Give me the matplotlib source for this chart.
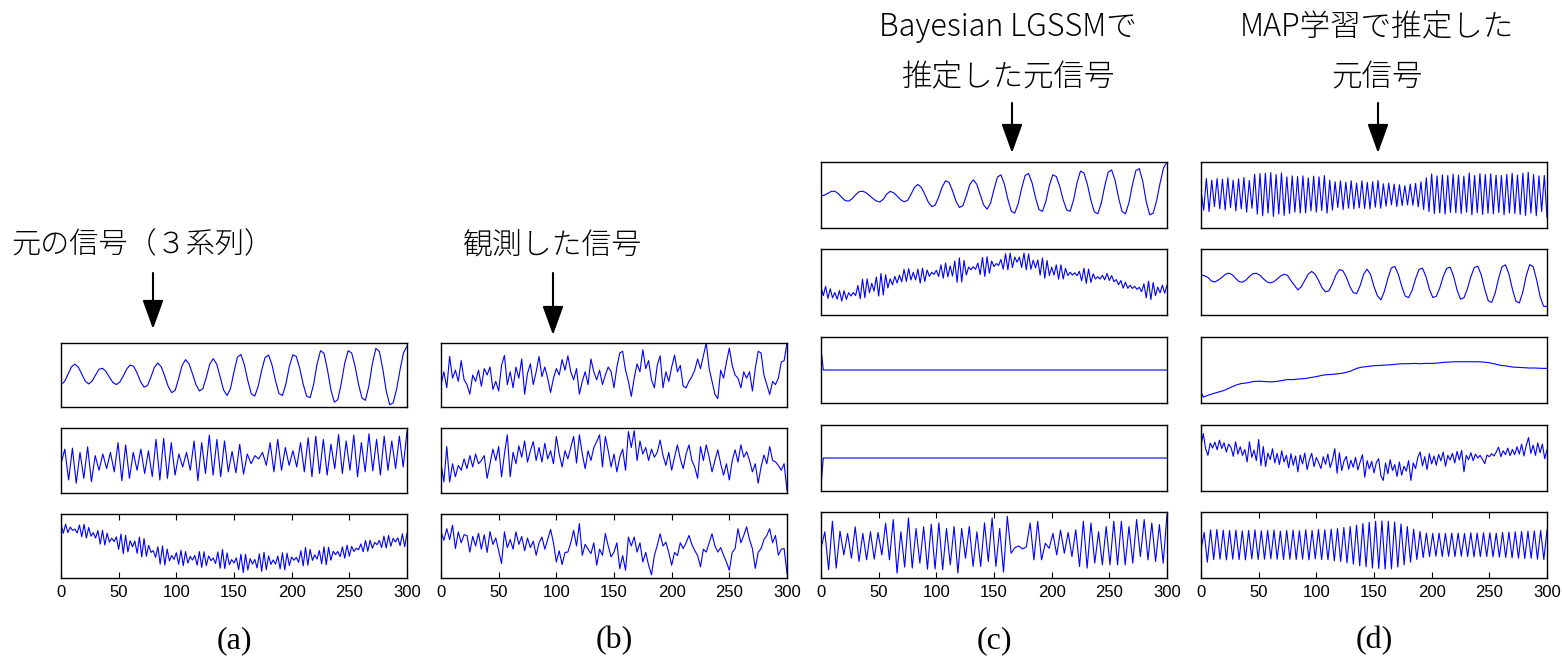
# -*- coding: utf-8 -*-
"""
Original signals, observed signals and the two estimates
(Bayesian LGSSM / MAP learning), drawn as stacked MATLAB-style strips.
"""
import numpy as np
import matplotlib
matplotlib.use("Agg")
import matplotlib.pyplot as plt
from matplotlib.patches import FancyArrowPatch

# ---------------------------------------------------------------- data
# (a) original signals, 3 series
sig_a1 = [-3.0, -2.1, 0.2, 2.5, 3.4, 2.5, 0.3, -1.9, -2.8, -1.9,
          0.0, 1.8, 2.1, 1.1, -0.7, -2.3, -3.0, -2.2, -0.3, 1.9,
          3.1, 2.7, 0.6, -2.1, -3.8, -3.3, -0.6, 2.4, 3.75, 2.5,
          -0.4, -3.6, -5.5, -4.8, -1.1, 3.0, 4.8, 3.5, 0.4, -3.0,
          -5.0, -4.3, -0.7, 3.4, 5.1, 3.4, -0.6, -4.7, -6.4, -4.2,
          1.0, 5.6, 6.4, 3.2, -1.8, -5.9, -6.6, -3.5, 1.5, 5.5,
          6.2, 3.1, -1.8, -5.8, -6.4, -2.8, 2.7, 6.3, 5.8, 2.1,
          -2.9, -6.6, -7.1, -3.0, 3.4, 7.6, 6.8, 1.7, -4.6, -8.5,
          -7.7, -2.6, 3.7, 7.6, 6.9, 2.7, -3.0, -7.2, -7.9, -3.3,
          3.6, 8.3, 7.4, 1.9, -5.0, -9.3, -8.7, -4.4, 1.7, 7.0,
          9.0]
sig_a2 = [-1, 3.5, -6, 3.8, -7, 2.5, -5.5, 4.2, -6.5, 1.5,
          -3, 2, -2.5, 2.5, -3.5, 5.5, -6.2, 4.8, -5.5, 2.5,
          -3, 3.5, -4, 3, -5, 6.5, -6, 6.8, -5.5, 5.5,
          -4.5, 2, -2, 2.5, -3, 6, -6.2, 5.5, -4, 7.8,
          -4.5, 6.5, -5, 6, -3.5, 2.8, -3.8, 5, -4.2, 2,
          -1, 1.5, 0.5, 2.5, -1.5, 5.5, -3.5, 6.5, -3, 4,
          -1.5, 3, -2, 5.5, -3.5, 7, -5, 7.5, -4, 6.5,
          -4.5, 5, -2.5, 8, -4, 6, -3, 7.8, -5, 5.5,
          -3.5, 8.2, -3.2, 6.5, -4.5, 7.5, -3, 6, -2.5, 7.5,
          -2, 9]
sig_a3 = [7.0, 4.0, 6.8, 4.2, 5.9, 4.9, 5.3, 4.05, 6.55, 2.9,
          6.8, 2.5, 5.8, 3.05, 4.15, 2.5, 4.8, 0.6, 4.9, 0.3,
          4.0, 1.2, 2.45, 1.35, 2.85, -1.05, 3.75, -2.4, 3.35, -1.85,
          1.65, -0.27, 1.55, -2.3, 2.8, -3.4, 2.35, -3.2, 0.2, -2.0,
          -1.45, -3.55, -0.25, -5.65, 0.0, -5.95, -0.95, -4.65, -2.95, -4.2,
          -2.1, -5.7, -1.35, -6.15, -1.75, -5.35, -3.25, -4.4, -2.95, -6.0,
          -1.75, -6.7, -1.8, -6.1, -3.1, -4.6, -3.75, -5.5, -1.85, -6.95,
          -1.1, -7.05, -2.15, -5.85, -4.25, -5.3, -3.7, -7.4, -2.55, -8.3,
          -2.6, -7.5, -3.95, -5.65, -4.2, -6.85, -2.45, -7.9, -1.95, -7.4,
          -3.05, -5.75, -4.35, -5.65, -3.15, -7.15, -2.1, -7.45, -2.25, -6.1,
          -3.45, -4.45, -3.55, -5.1, -1.45, -6.2, -0.4, -6.0, -1.05, -4.5,
          -2.75, -4.1, -1.4, -5.55, -0.25, -5.85, -0.4, -4.45, -1.65, -2.7,
          -1.7, -3.35, -0.3, -3.8, 0.25, -3.2, -0.1, -1.7, -0.7, -1.2,
          0.65, -1.8, 1.7, -1.65, 1.8, -0.7, 1.1, 0.4, 1.75, -0.5,
          3.1, -0.65, 3.3, -0.05, 2.4, 1.25, 2.55, 0.1, 3.8, -0.2,
          4.0]

# (b) observed signals, 3 series
sig_b1 = [-3, 1, -4, 5.8, -1, 1.5, -2, 4.5, -1.5, -3,
          -6, 0, -2, 1.5, -3.5, 2, 0, 2.5, -4.5, -2,
          -5, 3, 6.1, -3, 1, -4, 2.5, -1, 5, -6,
          0.5, 3.5, -3, 1, 5.8, -0.5, 2.5, -1, -5.5, -1,
          2, 0, 4.8, 1.5, 6, 1, -1.5, 2, -6, -2,
          1, -3, 5, 1, -1.5, 1.5, -3, 0, 2.5, 1,
          -4, 2.5, 6.9, 7.4, 1.5, -2, -6.7, -1, 3.5, 1,
          7.9, 2, 4.5, -1.5, -4, 3, 6, -4, 1, -2,
          2.5, 6.2, 1, 3, -3.5, -4, -2, -0.5, 1.5, 5,
          2, 6, 10, 2, -2, -6, -7.4, 1.5, -1, 4,
          8.4, 3, 0, -1, -4, 1, -1, 1, -5, 2,
          7.4, 6.9, 0, -3, -6.1, -2, -3, -1, 4, 4.5,
          10]
sig_b2 = [-1, -6.6, 4.3, -6.6, -1, -5, -1.5, -3, 0.5, -2.5,
          1.5, -2, 2, -1, 0, 1.5, -5.5, -1, 3.5, 0,
          4.3, -5, 2, 7.9, -5, 2.5, -1, 4.5, 1, 6,
          -0.5, 3, 5.8, 0, 4, -0.5, 5.3, 0.5, 3, -1,
          7.4, 2, -2, 3, 0.5, 4, 7.4, -0.8, 7.9, 2,
          -2.5, 3, 0, 4, 5.8, 7.9, -2, 7.4, 3, -2,
          2, -3.5, 1, 3.5, -3, 8.9, 4, 9.2, 0, 6,
          2, 4, 0, 3.5, 1, 2.5, 6.3, 1.5, -1.5, 2.5,
          -3, 1, 4.8, 0.5, -2.5, 2, 4.8, 0, -2, -5.5,
          4.3, 0, 4.8, 1, -3.5, 0, 3.3, -1, -4.5, -1,
          -6, 0, 3.3, -0.5, 4.8, 1, 2.7, 0, -3.5, -1,
          -7, -2, 1.7, -1, 4.3, 0, -0.4, -1.5, -3, -1,
          -9.2]
sig_b3 = [4.4, 1.8, 5.4, 2, 6.5, -0.8, 4.4, 1, 3.5, 3.3,
          -1.9, 3, 0, 4, -1, 3.5, -2, 4.5, 0.5, 2.5,
          -1.5, -5.5, 4.4, -0.5, 2, -1, 4.4, 0.5, 3, -1.5,
          2.5, -0.5, 1.5, -2.9, 1, 2.8, -1, 2, 5.2, 1,
          -5, -1.5, -5.8, -2, -1.9, 1, 4.9, 0, 7, -2.9,
          0.5, -1, -2.4, 1, -6, -1, -2.9, 3.9, 0, -3.4,
          -1.9, 1, -7.1, -3, -7.6, 2.8, 0, 2.8, -1.9, 1,
          -5, -2, -6, -9, -3, 0.2, 3.8, 0, 1.2, -2,
          -6, -2, -3, 1, -0.8, 1, 3.3, 0.5, -1.4, -3,
          -6.5, -1, -1.9, 1, 3.8, 0, -1.9, -0.5, -2.9, -5,
          -7.6, -2, -0.8, 5.4, 1, 3.3, 6, 2, -0.8, -7,
          -2, -0.8, 2, 3.3, 5.4, 1, 3.3, -2.9, -1, -0.8,
          -8.6]

# (c) Bayesian LGSSM estimate, 5 series
sig_c1 = [-0.3, -0.04, 0.55, 1.08, 1.15, 0.43, -0.75, -1.7, -1.85, -1.13,
          0.05, 0.99, 1.17, 0.72, -0.14, -1.06, -1.82, -2.1, -1.3, 0.3,
          1.1, 0.69, -0.31, -1.41, -2.05, -1.67, 0.18, 2.3, 3.2, 2.32,
          0.21, -2.14, -3.5, -3.08, -0.64, 2.4, 4.28, 3.86, 1.33, -1.83,
          -3.78, -3.22, -0.25, 3.15, 4.6, 3.3, 0.15, -3.0, -4.3, -2.48,
          1.74, 5.45, 6.1, 3.3, -1.26, -4.9, -5.5, -2.6, 2.1, 5.9,
          6.5, 3.7, -0.8, -4.4, -4.97, -1.87, 2.9, 6.1, 5.6, 2.6,
          -1.5, -4.5, -4.95, -1.5, 3.75, 7.25, 6.7, 3.2, -1.6, -5.1,
          -5.7, -2.5, 2.7, 6.9, 7.6, 4.4, -0.8, -5.0, -5.7, -2.35,
          3.05, 7.4, 8.0, 4.1, -2.0, -6.0, -5.5, -1.7, 3.6, 8.2,
          10.0]
sig_c2 = [-1.4, -4.15, -1.33, -4.97, -2.05, -4.8, -3.18, -5.2, -2.58, -5.8,
          -2.63, -5.25, -3.23, -4.25, -3.2, -4.1, -1.05, -5.05, 0.84, -4.74,
          0.95, -3.25, -0.4, -2.75, 1.55, -4.25, 2.6, -3.95, 2.2, -1.8,
          0.95, -0.85, 1.7, -0.3, 2.1, 0.05, 3.8, 0.2, 4.05, 0.6,
          2.95, 0.62, 3.9, -0.35, 4.2, 0.15, 3.63, 1.71, 2.95, 2.3,
          3.54, 1.67, 5.2, 1.15, 5.75, 1.55, 4.88, 1.79, 6.35, -0.1,
          7.3, 0.0, 6.55, 2.14, 4.52, 3.7, 4.6, 3.85, 5.75, 2.25,
          7.45, 1.7, 7.65, 2.65, 6.35, 4.65, 5.6, 5.0, 6.82, 3.9,
          8.57, 3.7, 8.77, 4.4, 7.57, 6.0, 7.57, 4.4, 8.77, 3.7,
          8.52, 3.85, 6.62, 4.3, 6.7, 2.05, 7.29, 1.16, 6.5, 1.95,
          4.5, 2.07, 5.2, 0.85, 5.2, 0.9, 4.13, 1.96, 2.95, 2.1,
          2.8, 1.9, 3.24, 0.37, 4.19, -0.4, 3.94, -0.13, 2.49, 0.9,
          1.6, 0.9, 2.0, 0.65, 2.6, 0.45, 1.95, 0.1, 0.75, -0.85,
          0.45, -1.85, -0.05, -1.9, -0.95, -1.95, -1.3, -2.25, -1.6, -2.94,
          -0.57, -4.78, 0.24, -5.34, -0.17, -4.13, -1.56, -3.28, -0.96, -3.4,
          -0.96]
c3_t = [0, 2, 300]
sig_c3 = [6.5, 0.0, 0.0]
c4_t = [0, 2, 300]
sig_c4 = [-8.3, 0.0, 0.0]
sig_c5 = [-1, 4, -7.5, 7.2, -7, 4.2, -3, 3.5, -4, 5.5,
          -5, 3.5, -4.5, 4, -4.3, 3.8, -3, 6.6, -4.5, 7.7,
          -8.5, 4, -6.7, 8.2, -7, 5, -5.5, 5.5, -7.3, 6.3,
          -7.3, 6.7, -7.5, 5, -6, 5.6, -8.5, 5, -4, 5.6,
          -6.5, 4, -6.5, 6.7, -5, 8.2, -6.5, 5, -8.2, 8.7,
          -2.5, -0.8, -0.3, -1.2, -0.6, 6.7, -4.5, 7.2, -4.5, 0.5,
          -1, 3.5, -3, 4.5, -2.5, 3.8, -3.5, 4.6, -6.5, 7.2,
          -7, 6.7, -5.5, 4, -6, 5.6, -6, 7.2, -6, 7.2,
          -6, 5.6, -5.5, 7.7, -3.5, 7.7, -4.5, 6.7, -5, 6.2,
          -5.5, 9.2]

# (d) MAP learning estimate, 5 series
sig_d1 = [1.4, -4.6, 5, -5, 4.5, -3.5, 5, -4.2, 4.8, -4.5,
          5.2, -3.8, 4.5, -4.8, 4.9, -4.2, 5.3, -5.2, 4.4, -4,
          6.3, -5.8, 6.5, -6.3, 6.6, -5.5, 6.8, -6.5, 6.2, -5.8,
          6.7, -6.2, 5.5, -5.6, 5.8, -5.2, 5.6, -5.5, 5.8, -5.4,
          5.2, -4.8, 5.7, -5.2, 5.5, -4.7, 5.9, -5.5, 4.5, -4.6,
          4.0, -3.8, 4.3, -4.4, 3.9, -4.0, 4.3, -4.2, 3.6, -3.9,
          4.3, -4.1, 3.8, -4.2, 4.0, -3.7, 4.4, -4.0, 3.4, -3.4,
          3.6, -3.0, 3.3, -3.5, 3.1, -3.2, 2.8, -3.0, 3.3, -3.1,
          3.5, -3.6, 4.0, -4.4, 5.2, -5.0, 6.4, -5.6, 5.8, -5.4,
          6.1, -5.8, 5.9, -5.3, 6.3, -5.4, 6.0, -5.6, 5.7, -5.2,
          6.7, -6.0, 5.9, -5.4, 6.5, -5.9, 6.2, -5.5, 6.4, -5.7,
          6.0, -5.3, 5.9, -6.0, 6.3, -5.4, 6.6, -5.6, 6.0, -5.9,
          6.6, -6.2, 6.9, -5.5, 6.2, -6.3, 5.8, -5.0, 5.9, -6.7]
sig_d2 = [2.2, 1.88, 1.4, 0.32, 0.0, 0.6, 1.35, 2.3, 2.7, 2.22,
          1.1, 0.12, -0.05, 0.6, 1.66, 2.5, 2.65, 2.06, 1.02, 0.09,
          -0.3, 0.05, 0.89, 1.82, 2.36, 2.03, 0.42, -1.0, -2.4, -1.41,
          0.5, 2.41, 3.2, 2.38, 0.43, -1.75, -3.0, -2.63, -0.51, 2.15,
          3.78, 3.44, 1.47, -1.27, -3.24, -3.51, -1.08, 2.34, 3.9, 2.3,
          -1.4, -4.2, -5.4, -2.83, 1.08, 4.23, 4.73, 2.45, -1.27, -4.24,
          -4.74, -2.58, 0.95, 3.78, 4.21, 1.7, -2.16, -4.71, -4.32, -1.83,
          1.63, 4.12, 4.5, 1.77, -2.42, -5.2, -4.78, -2.07, 1.67, 4.38,
          4.8, 2.15, -2.18, -5.64, -6.2, -3.45, 1.03, 4.63, 5.2, 2.4,
          -2.15, -5.8, -6.35, -3.09, 1.93, 5.26, 4.65, 0.65, -4.33, -7.38,
          -7.4]
d3_t = [0, 2] + list(range(5, 301, 5))
sig_d3 = [-6.7, -8.2, -7.8, -7.2, -6.7, -6.2, -5.4, -4.6, -4.1, -3.9,
          -3.5, -3.4, -3.5, -3.6, -3.5, -3.2, -2.9, -2.9, -2.7, -2.6,
          -2.3, -2.0, -1.6, -1.4, -1.3, -1.1, -0.8, -0.3, 0.5, 0.9,
          1.1, 1.3, 1.4, 1.5, 1.6, 1.8, 1.9, 1.9, 2.0, 1.9,
          2.0, 2.0, 2.1, 2.3, 2.4, 2.5, 2.5, 2.5, 2.5, 2.5,
          2.4, 2.2, 1.8, 1.4, 1.2, 0.9, 0.8, 0.7, 0.6, 0.6,
          0.5, 0.5]
sig_d4 = [3.8, 7.4, 2.8, 0.8, 4.5, 3.0, 4.8, 2.5, 5.4, 2.9,
          4.6, 1.8, 4.2, 3.2, 0.5, 4.9, 1.2, 3.4, 0.8, 2.6,
          -1.2, 4.9, 0.2, 2.4, -0.8, 5.6, -2.3, 3.5, -2.6, 1.5,
          -0.5, 2.8, -1.5, 1.4, -2.0, 2.2, -1.2, 0.8, -3.0, 1.3,
          -2.2, 0.6, -4.2, 0.9, -1.8, 1.5, -3.5, -0.5, 1.4, -2.6,
          0.2, -1.4, -3.2, 0.4, -1.9, 1.2, -2.9, -0.6, 2.8, -4.6,
          1.6, -3.8, -0.9, 0.5, -3.4, -0.7, -2.8, 0.2, -3.6, -1.2,
          1.0, -5.8, -0.8, -3.3, -1.0, -4.5, -1.4, -0.2, -5.4, -6.8,
          -1.5, -4.8, -0.5, -3.8, -2.0, -5.6, -1.2, -5.2, -2.5, -4.0,
          -0.8, -6.8, -1.5, -3.2, 0.2, 1.8, -2.4, 0.4, -3.5, 1.3,
          -1.8, 0.6, -2.2, 1.1, -0.9, 1.8, -2.5, 0.8, -0.6, 1.4,
          -1.5, 2.0, -0.6, 2.3, -4.2, 0.8, -0.5, 1.6, -0.8, 1.2,
          0.0, 0.8, -0.4, -1.7, 0.9, 0.4, 1.3, 0.6, 1.8, 3.3,
          0.4, 2.2, 1.0, 3.0, 0.7, 2.6, 1.0, 3.4, 1.2, 4.2,
          0.6, 3.8, 6.2, 1.4, 3.9, 0.8, 4.6, 1.6, 4.2, -0.2,
          2.5]
sig_d5 = [-1.4, 3.8, -5.2, 4.6, -4.4, 4.7, -4.3, 4.5, -4.5, 4.4,
          -4.3, 4.5, -4.4, 4.3, -4.5, 4.4, -4.2, 4.6, -4.4, 4.3,
          -4.3, 4.4, -4.2, 4.5, -4.3, 4.2, -4.4, 4.4, -4.3, 4.5,
          -4.4, 4.3, -4.3, 4.6, -4.5, 4.4, -4.2, 4.7, -4.4, 4.6,
          -4.5, 4.8, -4.8, 5.0, -5.0, 5.3, -5.4, 5.6, -5.8, 6.0,
          -6.3, 6.5, -6.6, 6.9, -7.0, 7.2, -7.1, 7.3, -7.3, 7.2,
          -7.2, 7.0, -6.7, 6.4, -6.0, 5.6, -5.2, 4.8, -4.4, 4.1,
          -3.8, 3.6, -3.5, 3.5, -3.4, 3.6, -3.5, 3.5, -3.4, 3.6,
          -3.5, 3.6, -3.4, 3.5, -3.5, 3.7, -3.6, 3.6, -3.5, 3.7,
          -3.5, 3.7, -3.6, 3.6, -3.7, 3.8, -3.8, 3.9, -3.9, 4.0,
          -4.0, 4.1, -4.1, 4.2, -4.0, 4.3, -4.3, 4.4, -4.4, 4.6]

panel_labels = ["(a)", "(b)", "(c)", "(d)"]
x_ticks = [0, 50, 100, 150, 200, 250, 300]
panels = [
    [(None, sig_a1), (None, sig_a2), (None, sig_a3)],
    [(None, sig_b1), (None, sig_b2), (None, sig_b3)],
    [(None, sig_c1), (None, sig_c2), (c3_t, sig_c3), (c4_t, sig_c4), (None, sig_c5)],
    [(None, sig_d1), (None, sig_d2), (d3_t, sig_d3), (None, sig_d4), (None, sig_d5)],
]

# ---------------------------------------------------------------- layout (pixels)
W, H = 1562, 657
col_left = [61, 441, 821, 1201]
col_w = 346
rows3 = [(343, 407), (428, 493), (514, 578)]
rows5 = [(162, 228), (249, 315), (337, 403), (425, 491), (512, 578)]

plt.rcParams["font.family"] = ["Noto Sans CJK JP", "DejaVu Sans"]

fig = plt.figure(figsize=(W / 100, H / 100), dpi=100)


def px_axes(left, top, bottom):
    return fig.add_axes([left / W, 1 - bottom / H, col_w / W, (bottom - top) / H])


for ci, series in enumerate(panels):
    rows = rows3 if len(series) == 3 else rows5
    for ri, ((t, v), (top, bot)) in enumerate(zip(series, rows)):
        ax = px_axes(col_left[ci], top, bot)
        x = np.linspace(0, 300, len(v)) if t is None else t
        ax.plot(x, v, color="#0000ff", lw=0.8)
        ax.set_xlim(0, 300)
        ax.set_ylim(-10, 10)
        ax.set_yticks([])
        for sp in ax.spines.values():
            sp.set_linewidth(1.0)
        if ri == len(series) - 1:
            ax.set_xticks(x_ticks)
            ax.tick_params(axis="x", direction="in", top=True, bottom=True,
                           length=4, width=0.8, labelsize=12, pad=5)
            for lab in ax.get_xticklabels():
                lab.set_family("Liberation Sans")
        else:
            ax.set_xticks([])
    fig.text((col_left[ci] + col_w / 2) / W, 1 - 641 / H, panel_labels[ci],
             ha="center", va="center", fontsize=23, family="Liberation Serif")

# annotations with arrows
notes = [
    (142, 245, "元の信号（３系列）", 21),
    (553, 245, "観測した信号", 21.5),
    (1008, 27, "Bayesian LGSSMで", 22),
    (1008, 77, "推定した元信号", 22),
    (1377, 27, "MAP学習で推定した", 22),
    (1377, 77, "元信号", 22),
]
for x, y, s, fs in notes:
    fig.text(x / W, 1 - y / H, s, ha="center", va="center", fontsize=fs,
             fontweight="light")

arrows = [(153, 273, 329), (553, 273, 335), (1012, 103, 153), (1378, 103, 153)]
for x, y0, y1 in arrows:
    fig.add_artist(FancyArrowPatch((x / W, 1 - y0 / H), (x / W, 1 - y1 / H),
                                   transform=fig.transFigure,
                                   arrowstyle="-|>,head_length=1.8,head_width=0.65",
                                   mutation_scale=10, lw=1.5, color="black",
                                   shrinkA=0, shrinkB=0))

fig.savefig("out.png", dpi=100)
